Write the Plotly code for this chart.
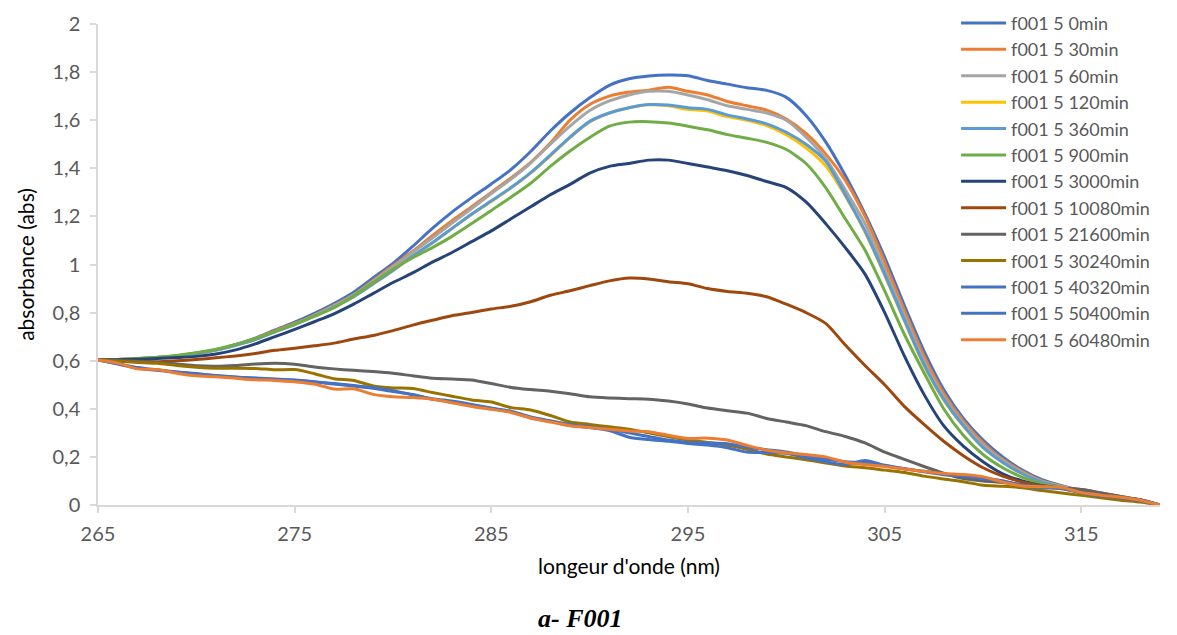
import plotly.graph_objects as go

# Wavelength grid (nm)
wavelength = list(range(265, 320))

# Absorbance spectra of f001 5 at successive irradiation times
abs_0 = [0.603, 0.605, 0.608, 0.613, 0.621, 0.632, 0.646, 0.668, 0.694, 0.728,
         0.760, 0.797, 0.838, 0.885, 0.945, 1.005, 1.075, 1.150, 1.218, 1.278,
         1.335, 1.395, 1.470, 1.555, 1.630, 1.693, 1.745, 1.772, 1.784, 1.788,
         1.785, 1.765, 1.750, 1.735, 1.724, 1.695, 1.620, 1.510, 1.370, 1.210,
         1.030, 0.830, 0.640, 0.480, 0.360, 0.270, 0.200, 0.145, 0.105, 0.080,
         0.060, 0.045, 0.032, 0.020, 0.000]
abs_30 = [0.603, 0.605, 0.608, 0.613, 0.620, 0.630, 0.645, 0.666, 0.692, 0.725,
          0.755, 0.790, 0.830, 0.875, 0.935, 0.995, 1.055, 1.120, 1.182, 1.240,
          1.300, 1.360, 1.425, 1.505, 1.600, 1.665, 1.700, 1.717, 1.725, 1.737,
          1.720, 1.705, 1.678, 1.660, 1.642, 1.605, 1.545, 1.460, 1.350, 1.200,
          1.010, 0.810, 0.620, 0.465, 0.350, 0.260, 0.190, 0.140, 0.100, 0.078,
          0.058, 0.044, 0.032, 0.020, 0.000]
abs_60 = [0.603, 0.605, 0.608, 0.613, 0.620, 0.630, 0.644, 0.665, 0.690, 0.722,
          0.752, 0.788, 0.828, 0.873, 0.930, 0.990, 1.050, 1.110, 1.172, 1.233,
          1.295, 1.355, 1.422, 1.500, 1.575, 1.640, 1.680, 1.705, 1.720, 1.720,
          1.705, 1.685, 1.660, 1.645, 1.630, 1.600, 1.530, 1.440, 1.310, 1.170,
          0.980, 0.790, 0.600, 0.450, 0.340, 0.250, 0.185, 0.135, 0.098, 0.077,
          0.057, 0.043, 0.031, 0.020, 0.000]
abs_120 = [0.603, 0.605, 0.608, 0.613, 0.620, 0.630, 0.644, 0.664, 0.688, 0.720,
           0.750, 0.785, 0.823, 0.866, 0.920, 0.975, 1.035, 1.090, 1.150, 1.208,
           1.262, 1.318, 1.380, 1.452, 1.528, 1.593, 1.630, 1.652, 1.664, 1.660,
           1.645, 1.638, 1.615, 1.600, 1.578, 1.540, 1.485, 1.410, 1.285, 1.135,
           0.955, 0.765, 0.580, 0.437, 0.328, 0.238, 0.177, 0.129, 0.094, 0.075,
           0.056, 0.042, 0.031, 0.020, 0.000]
abs_360 = [0.603, 0.605, 0.608, 0.613, 0.620, 0.630, 0.644, 0.664, 0.688, 0.720,
           0.750, 0.785, 0.823, 0.866, 0.920, 0.975, 1.035, 1.090, 1.150, 1.210,
           1.265, 1.320, 1.382, 1.455, 1.530, 1.595, 1.630, 1.652, 1.665, 1.663,
           1.652, 1.645, 1.622, 1.605, 1.585, 1.550, 1.500, 1.430, 1.290, 1.140,
           0.960, 0.770, 0.585, 0.440, 0.330, 0.240, 0.178, 0.130, 0.095, 0.075,
           0.056, 0.042, 0.031, 0.020, 0.000]
abs_900 = [0.603, 0.605, 0.609, 0.614, 0.622, 0.633, 0.648, 0.668, 0.692, 0.722,
           0.752, 0.785, 0.820, 0.870, 0.925, 0.980, 1.028, 1.070, 1.117, 1.170,
           1.225, 1.280, 1.338, 1.408, 1.472, 1.528, 1.575, 1.592, 1.594, 1.588,
           1.575, 1.560, 1.540, 1.525, 1.508, 1.478, 1.420, 1.320, 1.190, 1.060,
           0.890, 0.710, 0.550, 0.400, 0.290, 0.210, 0.155, 0.115, 0.088, 0.072,
           0.055, 0.041, 0.030, 0.018, 0.000]
abs_3000 = [0.603, 0.604, 0.606, 0.609, 0.613, 0.618, 0.628, 0.645, 0.670, 0.700,
            0.730, 0.762, 0.795, 0.835, 0.880, 0.925, 0.965, 1.010, 1.050, 1.095,
            1.140, 1.190, 1.240, 1.290, 1.333, 1.380, 1.408, 1.420, 1.434, 1.434,
            1.420, 1.405, 1.390, 1.370, 1.345, 1.320, 1.260, 1.170, 1.070, 0.960,
            0.800, 0.620, 0.460, 0.330, 0.245, 0.180, 0.130, 0.100, 0.080, 0.070,
            0.055, 0.040, 0.030, 0.018, 0.000]
abs_10080 = [0.603, 0.600, 0.598, 0.596, 0.600, 0.605, 0.612, 0.620, 0.630, 0.643,
             0.652, 0.662, 0.673, 0.690, 0.705, 0.725, 0.748, 0.768, 0.787, 0.800,
             0.815, 0.826, 0.845, 0.872, 0.891, 0.912, 0.932, 0.944, 0.940, 0.928,
             0.920, 0.900, 0.888, 0.880, 0.866, 0.835, 0.800, 0.755, 0.665, 0.580,
             0.500, 0.410, 0.335, 0.265, 0.205, 0.155, 0.120, 0.095, 0.080, 0.070,
             0.065, 0.050, 0.035, 0.022, 0.000]
abs_21600 = [0.603, 0.600, 0.597, 0.593, 0.586, 0.579, 0.577, 0.580, 0.586, 0.589,
             0.585, 0.574, 0.566, 0.560, 0.555, 0.548, 0.537, 0.527, 0.524, 0.520,
             0.505, 0.489, 0.480, 0.473, 0.463, 0.450, 0.445, 0.442, 0.440, 0.432,
             0.420, 0.403, 0.392, 0.382, 0.360, 0.345, 0.330, 0.305, 0.285, 0.258,
             0.220, 0.190, 0.160, 0.132, 0.110, 0.100, 0.094, 0.085, 0.078, 0.070,
             0.065, 0.050, 0.035, 0.022, 0.000]
abs_30240 = [0.603, 0.598, 0.593, 0.589, 0.580, 0.573, 0.569, 0.569, 0.568, 0.562,
             0.563, 0.546, 0.525, 0.518, 0.495, 0.487, 0.484, 0.468, 0.452, 0.437,
             0.428, 0.405, 0.395, 0.372, 0.345, 0.335, 0.325, 0.315, 0.300, 0.285,
             0.270, 0.260, 0.248, 0.232, 0.212, 0.200, 0.188, 0.175, 0.162, 0.155,
             0.145, 0.135, 0.120, 0.108, 0.097, 0.082, 0.078, 0.072, 0.060, 0.050,
             0.040, 0.030, 0.020, 0.012, 0.000]
abs_40320 = [0.603, 0.588, 0.572, 0.562, 0.553, 0.547, 0.537, 0.531, 0.528, 0.524,
             0.520, 0.513, 0.503, 0.495, 0.485, 0.472, 0.460, 0.440, 0.430, 0.414,
             0.400, 0.388, 0.362, 0.348, 0.330, 0.322, 0.310, 0.282, 0.272, 0.265,
             0.256, 0.249, 0.238, 0.220, 0.218, 0.215, 0.196, 0.180, 0.168, 0.185,
             0.165, 0.152, 0.138, 0.126, 0.122, 0.112, 0.100, 0.080, 0.072, 0.068,
             0.050, 0.038, 0.030, 0.018, 0.000]
abs_50400 = [0.603, 0.586, 0.570, 0.560, 0.552, 0.545, 0.538, 0.532, 0.527, 0.522,
             0.519, 0.511, 0.505, 0.497, 0.488, 0.475, 0.458, 0.442, 0.432, 0.418,
             0.403, 0.390, 0.366, 0.350, 0.335, 0.325, 0.315, 0.300, 0.285, 0.270,
             0.260, 0.258, 0.255, 0.240, 0.230, 0.220, 0.205, 0.190, 0.180, 0.175,
             0.163, 0.150, 0.140, 0.128, 0.120, 0.110, 0.100, 0.082, 0.074, 0.070,
             0.052, 0.040, 0.030, 0.020, 0.000]
abs_60480 = [0.603, 0.590, 0.566, 0.563, 0.548, 0.537, 0.533, 0.527, 0.521, 0.518,
             0.512, 0.503, 0.482, 0.483, 0.460, 0.450, 0.447, 0.440, 0.425, 0.410,
             0.398, 0.385, 0.362, 0.345, 0.330, 0.322, 0.315, 0.308, 0.305, 0.290,
             0.277, 0.278, 0.270, 0.248, 0.228, 0.217, 0.210, 0.200, 0.178, 0.168,
             0.160, 0.150, 0.140, 0.131, 0.127, 0.118, 0.095, 0.079, 0.076, 0.073,
             0.052, 0.041, 0.032, 0.020, 0.000]

series_names = ["f001 5 0min", "f001 5 30min", "f001 5 60min", "f001 5 120min",
                "f001 5 360min", "f001 5 900min", "f001 5 3000min",
                "f001 5 10080min", "f001 5 21600min", "f001 5 30240min",
                "f001 5 40320min", "f001 5 50400min", "f001 5 60480min"]
series_values = [abs_0, abs_30, abs_60, abs_120, abs_360, abs_900, abs_3000,
                 abs_10080, abs_21600, abs_30240, abs_40320, abs_50400, abs_60480]
series_colors = ["#4472C4", "#ED7D31", "#A5A5A5", "#FFC000", "#5B9BD5",
                 "#70AD47", "#264478", "#9E480E", "#636363", "#997300",
                 "#4472C4", "#4472C4", "#ED7D31"]

y_ticks = [0, 0.2, 0.4, 0.6, 0.8, 1.0, 1.2, 1.4, 1.6, 1.8, 2.0]
x_ticks = [265, 275, 285, 295, 305, 315]

TEXT = "#595959"
AXIS = "#D9D9D9"
FONT = "Lato"

fig = go.Figure()
for name, vals, col in zip(series_names, series_values, series_colors):
    fig.add_trace(go.Scatter(
        x=wavelength, y=vals, name=name, mode="lines",
        line=dict(color=col, width=3, shape="spline", smoothing=0.7),
    ))

fig.update_layout(
    width=1177, height=635,
    margin=dict(l=98, r=17, t=24, b=130, autoexpand=False),
    paper_bgcolor="white", plot_bgcolor="white",
    separators=", ",
    font=dict(family=FONT, color=TEXT, size=20),
    showlegend=True,
    legend=dict(
        x=0.808, xanchor="left", y=1.04, yanchor="top",
        font=dict(family=FONT, size=18, color=TEXT),
        bgcolor="rgba(0,0,0,0)", itemwidth=45, maxheight=450,
    ),
    xaxis=dict(
        range=[265, 319], tickvals=x_ticks, ticktext=[str(t) for t in x_ticks],
        showgrid=False, zeroline=False, showline=True, linecolor=AXIS, linewidth=1.5,
        ticks="outside", ticklen=6, tickcolor=AXIS, tickwidth=1.5,
        ticklabelstandoff=4,
        tickfont=dict(family=FONT, size=20, color=TEXT),
        title=dict(text="longeur d'onde (nm)", standoff=16,
                   font=dict(family=FONT, size=21, color="#000000")),
    ),
    yaxis=dict(
        range=[0, 2], tickvals=y_ticks,
        showgrid=False, zeroline=False, showline=True, linecolor=AXIS, linewidth=1.5,
        ticks="outside", ticklen=6, tickcolor=AXIS, tickwidth=1.5,
        ticklabelstandoff=6,
        tickfont=dict(family=FONT, size=20, color=TEXT),
        title=dict(text="absorbance (abs)", standoff=12,
                   font=dict(family=FONT, size=21, color="#000000")),
    ),
)

fig.add_annotation(
    text="<b><i>a- F001</i></b>", xref="paper", yref="paper",
    x=(580 - 98) / 1062, y=-(618 - 505) / 481, xanchor="center", yanchor="middle",
    showarrow=False, font=dict(family="Liberation Serif", size=26, color="#000000"),
)

fig.write_html("out.html")
